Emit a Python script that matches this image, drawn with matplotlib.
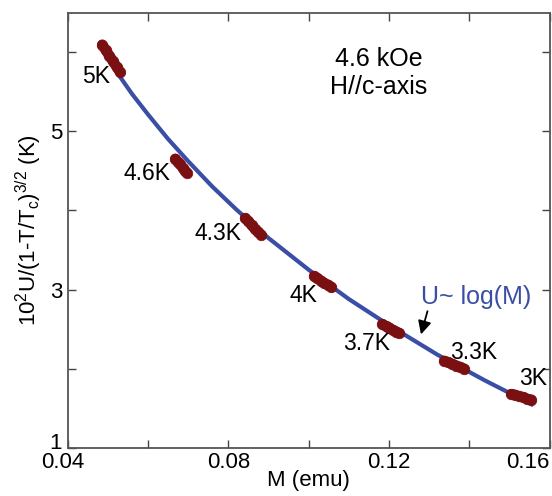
import matplotlib
matplotlib.use('Agg')
import matplotlib.pyplot as plt
import matplotlib.transforms as mtransforms

plt.rcParams['font.family'] = ['Liberation Sans', 'DejaVu Sans']
plt.rcParams['mathtext.default'] = 'regular'

# log(M) fit curve
fit_m = [0.048, 0.052, 0.056, 0.060, 0.065, 0.070, 0.076, 0.082,
         0.090, 0.100, 0.110, 0.120, 0.132, 0.144, 0.156]
fit_u = [6.07, 5.76, 5.47, 5.21, 4.90, 4.62, 4.30, 4.01,
         3.65, 3.25, 2.88, 2.55, 2.18, 1.85, 1.54]

# measured points for each temperature
temps = ['5K', '4.6K', '4.3K', '4K', '3.7K', '3.3K', '3K']
m_data = [
    [0.0486, 0.0495, 0.0504, 0.0513, 0.0522, 0.0531],
    [0.0668, 0.0674, 0.0680, 0.0686, 0.0692, 0.0697],
    [0.0842, 0.0850, 0.0858, 0.0866, 0.0874, 0.0882],
    [0.1014, 0.1022, 0.1031, 0.1039, 0.1048, 0.1057],
    [0.1184, 0.1192, 0.1201, 0.1209, 0.1218, 0.1226],
    [0.1338, 0.1348, 0.1358, 0.1368, 0.1378, 0.1388],
    [0.1505, 0.1515, 0.1525, 0.1535, 0.1545, 0.1555],
]
u_data = [
    [6.09, 6.02, 5.95, 5.88, 5.81, 5.74],
    [4.65, 4.61, 4.58, 4.54, 4.50, 4.47],
    [3.90, 3.86, 3.81, 3.77, 3.73, 3.69],
    [3.17, 3.14, 3.11, 3.08, 3.06, 3.03],
    [2.56, 2.54, 2.52, 2.49, 2.47, 2.45],
    [2.10, 2.08, 2.06, 2.04, 2.02, 2.00],
    [1.68, 1.67, 1.65, 1.64, 1.62, 1.61],
]
# label positions (data coords)
label_x = [0.0470, 0.0598, 0.0775, 0.0986, 0.1144, 0.1410, 0.1558]
label_y = [5.69, 4.47, 3.71, 2.92, 2.32, 2.20, 1.88]

blue = '#3a4ea6'
red = '#7a1012'

fig = plt.figure(figsize=(5.52, 4.96), dpi=100)
ax = fig.add_axes([0.1226, 0.0968, 0.8729, 0.877])

ax.plot(fit_m, fit_u, color=blue, lw=3.0, solid_capstyle='butt', zorder=2)

for m, u in zip(m_data, u_data):
    ax.plot(m, u, color=red, lw=7.5, solid_capstyle='round',
            marker='o', ms=7.6, mfc=red, mec=red, mew=0.5, zorder=3)

for t, lx, ly in zip(temps, label_x, label_y):
    ax.text(lx, ly, t, fontsize=16.5, ha='center', va='center')

ax.text(0.1418, 2.90, 'U~ log(M)', color=blue, fontsize=18, ha='center', va='center')
ax.annotate('', xy=(0.1278, 2.40), xytext=(0.1298, 2.76),
            arrowprops=dict(arrowstyle='-|>', color='black', lw=1.3, mutation_scale=20))

ax.text(0.645, 0.894, '4.6 kOe', transform=ax.transAxes, fontsize=18, ha='center', va='center')
ax.text(0.645, 0.830, 'H//c-axis', transform=ax.transAxes, fontsize=18, ha='center', va='center')

ax.set_xlim(0.04, 0.16)
ax.set_ylim(1, 6.49)
ax.set_xticks([0.04, 0.06, 0.08, 0.10, 0.12, 0.14, 0.16])
ax.set_xticklabels(['0.04', '', '0.08', '', '0.12', '', '0.16'])
ax.set_yticks([1, 2, 3, 4, 5, 6])
ax.set_yticklabels(['1', '', '3', '', '5', ''])
ax.tick_params(direction='in', length=6, width=1.0, color='#444444',
               top=True, right=True, labelsize=16)
ax.tick_params(axis='x', pad=3)
ax.tick_params(axis='y', pad=4)

# keep corner labels apart and inside the figure
xlabels = ax.get_xticklabels()
xlabels[-1].set_horizontalalignment('right')
xlabels[0].set_transform(xlabels[0].get_transform() +
                         mtransforms.ScaledTranslation(-5 / 100, 0, fig.dpi_scale_trans))
ylabels = ax.get_yticklabels()
ylabels[0].set_transform(ylabels[0].get_transform() +
                         mtransforms.ScaledTranslation(0, 7 / 100, fig.dpi_scale_trans))

for s in ax.spines.values():
    s.set_color('#555555')
    s.set_linewidth(1.3)

ax.set_xlabel('M (emu)', fontsize=16, labelpad=-2)
ax.set_ylabel(r'10$^2$U/(1-T/T$_c$)$^{3/2}$ (K)', fontsize=16)
ax.yaxis.set_label_coords(-0.05, 0.5)

plt.savefig('out.png', dpi=100)
